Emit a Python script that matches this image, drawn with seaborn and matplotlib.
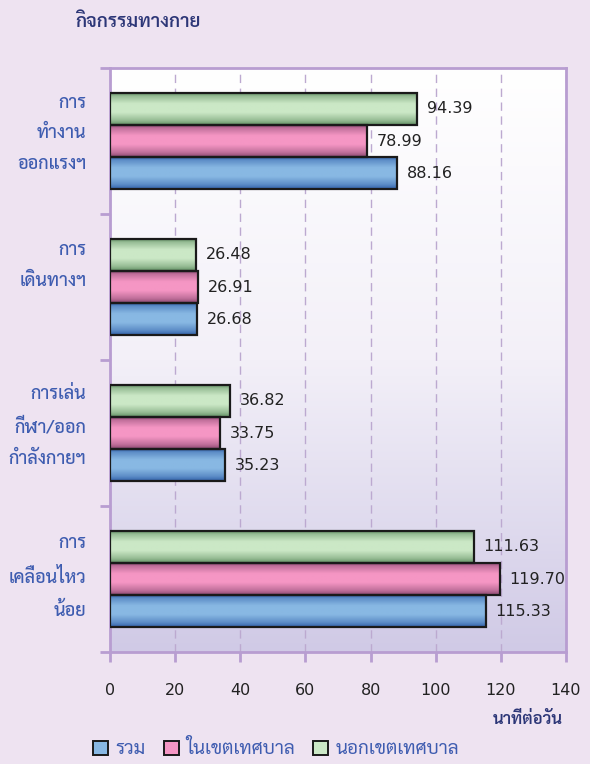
import numpy as np
import pandas as pd
import matplotlib
matplotlib.use("Agg")
import matplotlib.pyplot as plt
import matplotlib.colors as mcolors
import matplotlib.transforms as mtransforms
from matplotlib.patches import Patch
import seaborn as sns

# %% Data (minutes per day)
categories = ["การ\nทำงาน\nออกแรงฯ", "การ\nเดินทางฯ",
              "การเล่น\nกีฬา/ออก\nกำลังกายฯ", "การ\nเคลื่อนไหว\nน้อย"]
groups = ["รวม", "ในเขตเทศบาล", "นอกเขตเทศบาล"]
total = [88.16, 26.68, 35.23, 115.33]
municipal = [78.99, 26.91, 33.75, 119.70]
non_municipal = [94.39, 26.48, 36.82, 111.63]
x_ticks = [0, 20, 40, 60, 80, 100, 120, 140]

# %% Style
THAI = ["Sarabun", "DejaVu Sans"]
NUM = ["DejaVu Sans", "Sarabun"]
BG = "#EEE3F1"
SPINE = "#B89DD1"
NAVY = "#2C3677"
LABEL_BLUE = "#3E5CB0"
# (dark edge, light centre) for each series
shades = {
    "รวม": ("#2A5AA5", "#88B8E3"),
    "ในเขตเทศบาล": ("#82426A", "#F596C4"),
    "นอกเขตเทศบาล": ("#58885A", "#CBE8C6"),
}

sns.set_theme(style="white")
plt.rcParams["font.family"] = NUM

df = pd.DataFrame({
    "category": categories * 3,
    "group": ["รวม"] * 4 + ["ในเขตเทศบาล"] * 4 + ["นอกเขตเทศบาล"] * 4,
    "value": total + municipal + non_municipal,
})
hue_order = ["นอกเขตเทศบาล", "ในเขตเทศบาล", "รวม"]

fig = plt.figure(figsize=(5.9, 7.64), dpi=100, facecolor=BG)
ax = fig.add_axes([110 / 590, 1 - 652 / 764, 456 / 590, 584 / 764])
ax.set_facecolor("none")

sns.barplot(data=df, y="category", x="value", hue="group", hue_order=hue_order,
            order=categories, orient="h", width=0.66, legend=False,
            palette={g: shades[g][1] for g in groups}, ax=ax, zorder=3)

# plot-area background: white at top fading to lavender
bg = np.linspace(0, 1, 256)[:, None]
bg_cmap = mcolors.LinearSegmentedColormap.from_list("bg", ["#FFFFFF", "#F3F0F8", "#D0CAE6"])
ax.imshow(bg, cmap=bg_cmap, aspect="auto", extent=(0, 1, 0, 1),
          transform=ax.transAxes, zorder=0, origin="upper")

# cylinder-like shading on each bar
prof_pos = [0, 0.12, 0.35, 0.62, 0.86, 1.0]
prof_val = [0.0, 0.55, 1.0, 1.0, 0.55, 0.1]
rows = np.interp(np.linspace(0, 1, 64), prof_pos, prof_val)
for cont, g in zip(ax.containers, hue_order):
    dark, light = (np.array(mcolors.to_rgb(c)) for c in shades[g])
    img = (dark[None, :] * (1 - rows[:, None]) + light[None, :] * rows[:, None])[:, None, :]
    for bar in cont:
        x0, y0, w, h = bar.get_x(), bar.get_y(), bar.get_width(), bar.get_height()
        ax.imshow(img, aspect="auto", extent=(x0, x0 + w, y0 + h, y0),
                  origin="upper", zorder=3, interpolation="bilinear")
        bar.set_facecolor("none")
        bar.set_edgecolor("#1A1A1A")
        bar.set_linewidth(1.6)
        bar.set_zorder(4)
        ax.text(x0 + w + 3.0, y0 + h / 2, f"{w:.2f}", va="center", ha="left",
                fontsize=11.5, color="#222222", zorder=5)

ax.set_xlim(0, 140)
ax.set_ylim(3.5, -0.5)

# grid, spines, ticks
ax.set_xticks(x_ticks)
ax.xaxis.grid(True, linestyle=(0, (6, 4)), color="#BCA9D0", linewidth=1.0, zorder=1)
ax.set_axisbelow(True)
for s in ax.spines.values():
    s.set_visible(True)
    s.set_color(SPINE)
    s.set_linewidth(2)
ax.tick_params(axis="x", which="major", length=7, width=2, color=SPINE, direction="out",
               pad=15, labelsize=11.5, labelcolor="#222222", bottom=True)
ax.set_yticks(range(4))
ax.set_yticks(np.arange(-0.5, 4, 1), minor=True)
ax.tick_params(axis="y", which="major", length=0, pad=17)
ax.tick_params(axis="y", which="minor", length=7, width=2, color=SPINE, direction="out", left=True)
ax.set_yticklabels(categories, family=THAI, fontsize=13, fontweight="medium",
                   color=LABEL_BLUE, linespacing=2.05, ha="right")
# the original labels sit a little above the middle of each band
for lab, dy in zip(ax.get_yticklabels(), [16, 30, 15, 11]):
    lab.set_transform(lab.get_transform() +
                      mtransforms.ScaledTranslation(0, dy / 100, fig.dpi_scale_trans))
ax.set_xlabel("")
ax.set_ylabel("")

# title and axis caption
fig.text(75 / 590, 1 - 22 / 764, "กิจกรรมทางกาย", family=THAI, fontsize=13.5,
         fontweight="semibold", color=NAVY, ha="left", va="center")
fig.text(563 / 590, 1 - 720 / 764, "นาทีต่อวัน", family=THAI, fontsize=12,
         fontweight="semibold", color=NAVY, ha="right", va="center")

# legend
handles = [Patch(facecolor=shades[g][1], edgecolor="#1A1A1A", linewidth=1.4, label=g)
           for g in groups]
leg = fig.legend(handles=handles, loc="center", bbox_to_anchor=(0.468, 1 - 749 / 764),
                 ncol=3, frameon=False, handlelength=0.8, handleheight=0.8,
                 handletextpad=0.4, columnspacing=0.95,
                 prop={"family": THAI, "size": 13.5})
for t in leg.get_texts():
    t.set_color(LABEL_BLUE)

fig.savefig("out.png", dpi=100, facecolor=BG)
